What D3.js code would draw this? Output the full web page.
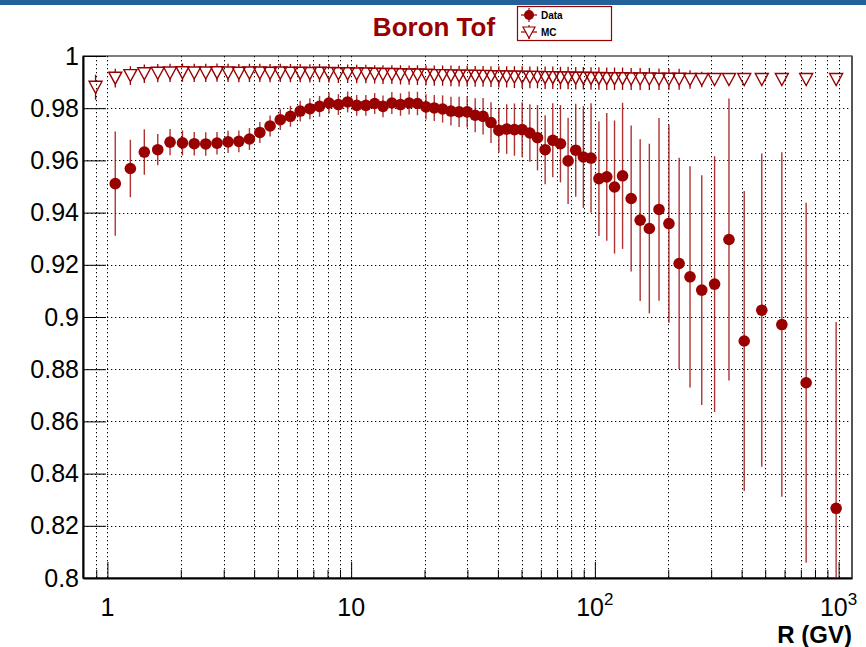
<!DOCTYPE html>
<html><head><meta charset="utf-8">
<script src="https://cdn.jsdelivr.net/npm/d3@7"></script>
<style>
body{margin:0;background:#fff}
svg{display:block}
text{font-family:"Liberation Sans",Arial,Helvetica,sans-serif}
</style>
</head><body>
<svg id="c" width="866" height="647"></svg>
<script>
// ---------------- data ----------------
const rigidity = [1.077,1.242,1.417,1.609,1.807,2.032,2.271,2.532,2.816,3.126,3.462,3.826,4.221,4.649,5.119,5.636,6.180,6.773,7.418,8.112,8.866,9.675,10.54,11.49,12.49,13.51,14.69,15.94,17.29,18.71,20.28,21.93,23.73,25.68,27.73,29.93,32.28,34.78,37.48,40.37,43.47,46.77,50.32,54.12,58.16,62.51,67.20,72.25,77.65,83.45,89.69,96.44,103.9,111.9,120.4,129.9,140.9,153.4,167.3,183.3,201.3,221.7,245.7,274.5,309.9,355,410,484,585,736,977];
const dataEff = [0.9511,0.9569,0.9632,0.9641,0.9670,0.9667,0.9664,0.9663,0.9666,0.9671,0.9673,0.9682,0.9707,0.9732,0.9756,0.9769,0.9789,0.9798,0.9807,0.9820,0.9814,0.9824,0.9811,0.9811,0.9818,0.9807,0.9820,0.9814,0.9820,0.9818,0.9805,0.9801,0.9797,0.9789,0.9786,0.9786,0.9773,0.9769,0.9745,0.9715,0.9720,0.9718,0.9718,0.9705,0.9687,0.9641,0.9677,0.9664,0.9598,0.9639,0.9613,0.9609,0.9530,0.9537,0.9498,0.9541,0.9454,0.9371,0.9339,0.9412,0.9358,0.9205,0.9154,0.9103,0.9126,0.9297,0.8908,0.9026,0.8971,0.8748,0.8267];
const dataErr = [0.020,0.011,0.0087,0.006,0.005,0.0048,0.0045,0.0045,0.0043,0.0043,0.0042,0.0042,0.004,0.004,0.004,0.004,0.004,0.004,0.004,0.004,0.004,0.004,0.004,0.004,0.004,0.0042,0.0042,0.0043,0.0044,0.0045,0.0048,0.005,0.0052,0.0055,0.0058,0.006,0.0065,0.007,0.0078,0.0085,0.0095,0.010,0.0105,0.011,0.0125,0.0132,0.0142,0.0148,0.0165,0.0178,0.0195,0.021,0.022,0.0245,0.0255,0.028,0.028,0.031,0.0325,0.035,0.038,0.0405,0.0424,0.044,0.049,0.054,0.0575,0.060,0.066,0.069,0.0714];
const mcRigidity = [0.894,1.077,1.242,1.417,1.609,1.807,2.032,2.271,2.532,2.816,3.126,3.462,3.826,4.221,4.649,5.119,5.636,6.180,6.773,7.418,8.112,8.866,9.675,10.54,11.49,12.49,13.51,14.69,15.94,17.29,18.71,20.28,21.93,23.73,25.68,27.73,29.93,32.28,34.78,37.48,40.37,43.47,46.77,50.32,54.12,58.16,62.51,67.20,72.25,77.65,83.45,89.69,96.44,103.9,111.9,120.4,129.9,140.9,153.4,167.3,183.3,201.3,221.7,245.7,274.5,309.9,355,410,484,585,736,977];
const mcEff = [0.9880,0.9915,0.9925,0.9932,0.9934,0.9935,0.9936,0.9935,0.9935,0.9936,0.9935,0.9934,0.9935,0.9935,0.9934,0.9935,0.9934,0.9934,0.9933,0.9934,0.9933,0.9932,0.9932,0.9931,0.9931,0.9930,0.9929,0.9929,0.9928,0.9927,0.9927,0.9926,0.9925,0.9925,0.9924,0.9923,0.9923,0.9922,0.9922,0.9921,0.9920,0.9920,0.9919,0.9919,0.9918,0.9918,0.9917,0.9917,0.9916,0.9916,0.9915,0.9915,0.9914,0.9914,0.9913,0.9913,0.9913,0.9912,0.9912,0.9912,0.9911,0.9911,0.9911,0.9910,0.9910,0.9910,0.9910,0.9910,0.9910,0.9910,0.9910,0.9910];
const mcErr = [0.0048,0.0036,0.0036,0.0035,0.0035,0.0035,0.0035,0.0035,0.0035,0.0035,0.0035,0.0035,0.0035,0.0035,0.0035,0.0035,0.0035,0.0035,0.0035,0.0035,0.0035,0.0035,0.0035,0.0035,0.0035,0.0035,0.0036,0.0036,0.0037,0.0037,0.0038,0.0038,0.0039,0.0039,0.004,0.004,0.004,0.004,0.004,0.004,0.0041,0.0041,0.0042,0.0042,0.0042,0.0042,0.0043,0.0043,0.0043,0.0043,0.0043,0.0043,0.0043,0.0043,0.0043,0.0043,0.0043,0.0042,0.0042,0.0042,0.0041,0.004,0.004,0.0035,0.003,0.002,0.002,0.002,0.002,0.002,0.002,0.002];
const yTicks = [0.8,0.82,0.84,0.86,0.88,0.9,0.92,0.94,0.96,0.98,1.0];
const yTickLabels = ["0.8","0.82","0.84","0.86","0.88","0.9","0.92","0.94","0.96","0.98","1"];
const xMajorTicks = [1,10,100,1000];
const xMajorBase = ["1","10","10","10"];
const xMajorExp = ["","","2","3"];
const xMinorTicks = [0.9,2,3,4,5,6,7,8,9,20,30,40,50,60,70,80,90,200,300,400,500,600,700,800,900];
const titleText = "Boron Tof";
const xTitle = "R (GV)";
const legendLabels = ["Data","MC"];

// ---------------- drawing ----------------
const RED = "#990000";
const svg = d3.select("#c");
const L = 83, R = 852, T = 56, B = 578;
const x = d3.scaleLog().domain([0.794, 1135]).range([L, R]);
const y = d3.scaleLinear().domain([0.8, 1.0]).range([B, T]);

svg.append("rect").attr("x",0).attr("y",0).attr("width",866).attr("height",5).attr("fill","#22609c");

svg.append("defs").append("clipPath").attr("id","clip")
  .append("rect").attr("x",L).attr("y",T).attr("width",R-L).attr("height",B-T);

// grid
const grid = svg.append("g").attr("stroke","#000").attr("stroke-width",1).attr("stroke-dasharray","1.3,2.7");
grid.selectAll("line.v").data(xMajorTicks.concat(xMinorTicks).filter(v=>x(v)>L+1 && x(v)<R-1)).join("line")
  .attr("x1",d=>Math.round(x(d))+0.5).attr("x2",d=>Math.round(x(d))+0.5).attr("y1",T).attr("y2",B);
grid.selectAll("line.h").data(yTicks.filter(v=>v>0.801 && v<0.999)).join("line")
  .attr("y1",d=>Math.round(y(d))+0.5).attr("y2",d=>Math.round(y(d))+0.5).attr("x1",L).attr("x2",R);

// frame
svg.append("rect").attr("x",L).attr("y",T).attr("width",R-L).attr("height",B-T)
  .attr("fill","none").attr("stroke","#000").attr("stroke-width",1);
svg.append("line").attr("x1",R).attr("x2",R).attr("y1",T).attr("y2",B).attr("stroke","#555").attr("stroke-width",2);

// axes
const yAxis = d3.axisLeft(y).tickValues(yTicks).tickSize(-23).tickSizeOuter(0).tickPadding(4)
  .tickFormat((d,i)=>yTickLabels[i]);
const gy = svg.append("g").attr("transform",`translate(${L},0)`).call(yAxis);
gy.select(".domain").attr("stroke-width",2);
gy.selectAll(".tick line").attr("stroke-width",1);
gy.selectAll("text").attr("font-size",25).attr("fill","#000").attr("font-family","'Liberation Sans',Arial,sans-serif");

const xAxisMajor = d3.axisBottom(x).tickValues(xMajorTicks).tickSize(-16).tickSizeOuter(0).tickFormat("");
const gx = svg.append("g").attr("transform",`translate(0,${B})`).call(xAxisMajor);
gx.select(".domain").attr("stroke-width",2);
const xAxisMinor = d3.axisBottom(x).tickValues(xMinorTicks).tickSize(-8).tickSizeOuter(0).tickFormat("");
const gx2 = svg.append("g").attr("transform",`translate(0,${B})`).call(xAxisMinor);
gx2.select(".domain").remove();

const xl = svg.append("g").attr("font-size",25).attr("fill","#000");
xMajorTicks.forEach((v,i)=>{
  const t = xl.append("text").attr("x",x(v)).attr("y",616).attr("text-anchor","middle");
  t.append("tspan").text(xMajorBase[i]);
  if (xMajorExp[i]) t.append("tspan").attr("dy",-11).attr("font-size",17).text(xMajorExp[i]);
});

svg.append("text").attr("x",R).attr("y",643).attr("text-anchor","end")
  .attr("font-size",24).attr("font-weight","bold").text(xTitle);

// title
svg.append("text").attr("x",434).attr("y",36).attr("text-anchor","middle")
  .attr("font-size",26).attr("font-weight","bold").attr("fill",RED).text(titleText);

// data
const plot = svg.append("g").attr("clip-path","url(#clip)");
const dataPts = rigidity.map((r,i)=>({r, v:dataEff[i], e:dataErr[i]}));
const mcPts = mcRigidity.map((r,i)=>({r, v:mcEff[i], e:mcErr[i]}));

const TH = 12, TW = 13;
plot.append("g").attr("stroke",RED).attr("stroke-width",1.3)
  .selectAll("path").data(mcPts).join("path")
  .attr("d",d=>{
    const cx=x(d.r), cy=y(d.v), yt=y(d.v+d.e), yb=y(d.v-d.e);
    let s="";
    if (cy-TH/2 > yt) s += `M${cx},${yt}V${cy-TH/2}`;
    if (yb > cy+TH/2) s += `M${cx},${cy+TH/2}V${yb}`;
    return s||"M0,0";
  });
plot.append("g").attr("fill","none").attr("stroke",RED).attr("stroke-width",1.4)
  .selectAll("path").data(mcPts).join("path")
  .attr("d",d=>{const cx=x(d.r), cy=y(d.v); return `M${cx-TW/2},${cy-TH/2}L${cx+TW/2},${cy-TH/2}L${cx},${cy+TH/2}Z`;});

plot.append("g").attr("stroke",RED).attr("stroke-width",1.4).attr("stroke-opacity",0.8)
  .selectAll("line").data(dataPts).join("line")
  .attr("x1",d=>x(d.r)).attr("x2",d=>x(d.r)).attr("y1",d=>y(d.v+d.e)).attr("y2",d=>y(d.v-d.e));
plot.append("g").attr("fill",RED)
  .selectAll("circle").data(dataPts).join("circle")
  .attr("cx",d=>x(d.r)).attr("cy",d=>y(d.v)).attr("r",5.8);

// legend
const lg = svg.append("g");
lg.append("rect").attr("x",517.5).attr("y",6.5).attr("width",94).attr("height",34)
  .attr("fill","#fff").attr("stroke",RED).attr("stroke-width",1.2);
const ly = [15,32];
ly.forEach((yy,i)=>{
  lg.append("line").attr("x1",521).attr("x2",537).attr("y1",yy).attr("y2",yy).attr("stroke",RED).attr("stroke-width",1.2);
  lg.append("line").attr("x1",529).attr("x2",529).attr("y1",yy-7).attr("y2",yy+7).attr("stroke",RED).attr("stroke-width",1.2);
  if (i===0) lg.append("circle").attr("cx",529).attr("cy",yy).attr("r",5).attr("fill",RED);
  else lg.append("path").attr("d",`M${523},${yy-5}L${535},${yy-5}L${529},${yy+6}Z`).attr("fill","#fff").attr("stroke",RED).attr("stroke-width",1.2);
  lg.append("text").attr("x",541).attr("y",yy+4).attr("font-size",10).attr("font-weight","bold").text(legendLabels[i]);
});
</script>
</body></html>
